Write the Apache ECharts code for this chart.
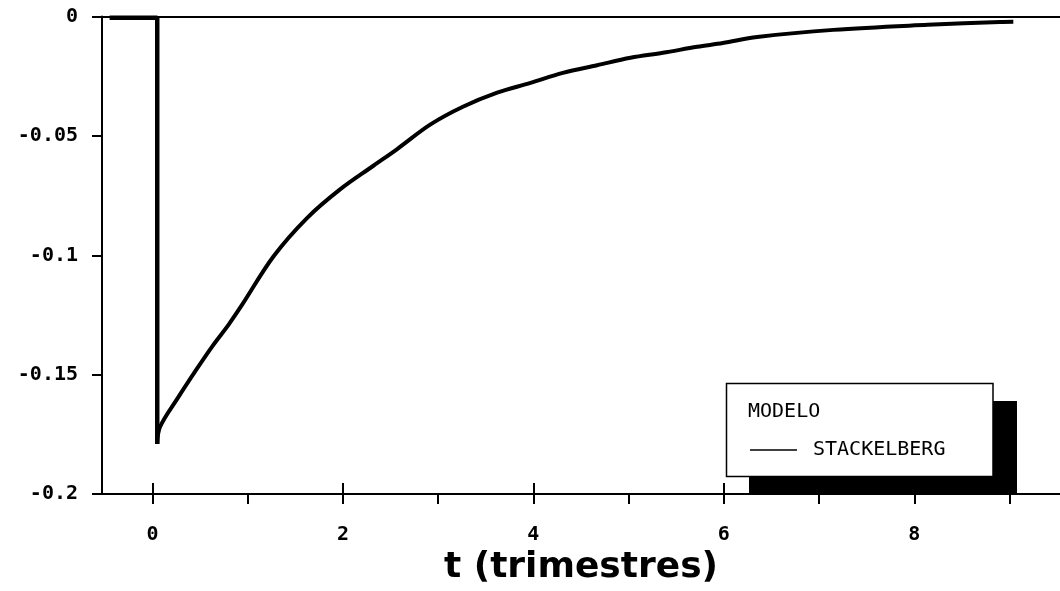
<!DOCTYPE html>
<html>
<head>
<meta charset="utf-8">
<script src="https://cdn.jsdelivr.net/npm/echarts@6/dist/echarts.min.js"></script>
<style>html,body{margin:0;padding:0;background:#fff;}#c{width:1060px;height:591px;}</style>
</head>
<body>
<div id="c"></div>
<script>
// ---- data ----
// pre-shock segment and the drop at the shock
const stepT = [-0.45, 0.05, 0.05];
const stepV = [-0.0005, -0.0005, -0.179];
// adjustment path after the shock
const curveT = [0.05, 0.08, 0.27, 0.45, 0.63, 0.80, 0.94, 1.27, 1.62, 1.97, 2.32, 2.57, 2.92, 3.26, 3.62, 3.97, 4.31, 4.67, 5.02, 5.36, 5.72, 5.99, 6.35, 7.15, 8.14, 8.9, 9.04];
const curveV = [-0.179, -0.1718, -0.1595, -0.1485, -0.138, -0.129, -0.1208, -0.1005, -0.0845, -0.0724, -0.0625, -0.0555, -0.0452, -0.0378, -0.0319, -0.0278, -0.0236, -0.0204, -0.0173, -0.0152, -0.0127, -0.0111, -0.0086, -0.0056, -0.0035, -0.0023, -0.0022];
const xMajorTicks = [0, 2, 4, 6, 8];
const xAllTicks = [0, 1, 2, 3, 4, 5, 6, 7, 8, 9];
const xTickLabels = ['0', '2', '4', '6', '8'];
const yTickLabels = ['0', '-0.05', '-0.1', '-0.15', '-0.2'];
const seriesName = 'STACKELBERG';
const legendTitle = 'MODELO';
const xTitle = 't (trimestres)';

const chart = echarts.init(document.getElementById('c'));
const labelFont = { fontFamily: 'DejaVu Sans Mono', fontWeight: 'bold', fontSize: 20, color: '#000' };

chart.setOption({
  animation: false,
  backgroundColor: '#fff',
  grid: { left: 102, right: 0, top: 16.5, bottom: 96, containLabel: false },
  xAxis: [
    {
      type: 'value', min: -0.53, max: 9.53, position: 'bottom',
      axisLine: { show: true, onZero: false, lineStyle: { color: '#000', width: 2 } },
      axisTick: { show: true, customValues: xAllTicks, length: 10, inside: false, lineStyle: { color: '#000', width: 2 } },
      axisLabel: Object.assign({ show: true, customValues: xMajorTicks, margin: 31,
        formatter: v => xTickLabels[xMajorTicks.indexOf(Math.round(v))] }, labelFont),
      splitLine: { show: false },
      name: xTitle, nameLocation: 'middle', nameGap: 53,
      nameTextStyle: { fontFamily: 'DejaVu Sans', fontWeight: 'bold', fontSize: 36, color: '#000' }
    },
    {
      type: 'value', min: -0.53, max: 9.53, position: 'bottom',
      axisLine: { show: false, onZero: false },
      axisTick: { show: true, customValues: xMajorTicks, length: 11, inside: true, lineStyle: { color: '#000', width: 2 } },
      axisLabel: { show: false },
      splitLine: { show: false }
    },
    {
      type: 'value', min: -0.53, max: 9.53, position: 'top',
      axisLine: { show: true, onZero: false, lineStyle: { color: '#000', width: 2 } },
      axisTick: { show: false }, axisLabel: { show: false }, splitLine: { show: false }
    }
  ],
  yAxis: {
    type: 'value', min: -0.2, max: 0, interval: 0.05,
    axisLine: { show: true, onZero: false, lineStyle: { color: '#000', width: 2 } },
    axisTick: { show: true, length: 10, lineStyle: { color: '#000', width: 2 } },
    axisLabel: Object.assign({ margin: 24,
      formatter: v => yTickLabels[Math.round(-v / 0.05)] }, labelFont),
    splitLine: { show: false }
  },
  graphic: [
    { type: 'rect', shape: { x: 749, y: 401, width: 268, height: 94 }, style: { fill: '#000' }, z: 10 },
    { type: 'rect', shape: { x: 726.5, y: 383.5, width: 266.5, height: 93 }, style: { fill: '#fff', stroke: '#000', lineWidth: 1.5 }, z: 11 },
    { type: 'text', x: 748, y: 412, style: { text: legendTitle, fontFamily: 'DejaVu Sans Mono', fontSize: 20, fill: '#000', verticalAlign: 'middle' }, z: 12 },
    { type: 'line', shape: { x1: 750, y1: 450, x2: 797, y2: 450 }, style: { stroke: '#000', lineWidth: 1.5 }, z: 12 },
    { type: 'text', x: 813, y: 450, style: { text: seriesName, fontFamily: 'DejaVu Sans Mono', fontSize: 20, fill: '#000', verticalAlign: 'middle' }, z: 12 }
  ],
  series: [
    {
      name: seriesName, type: 'line', xAxisIndex: 0,
      data: stepT.map((t, i) => [t, stepV[i]]),
      showSymbol: false, symbol: 'none', smooth: false,
      lineStyle: { color: '#000', width: 4.5 },
      z: 5
    },
    {
      name: seriesName, type: 'line', xAxisIndex: 0,
      data: curveT.map((t, i) => [t, curveV[i]]),
      showSymbol: false, symbol: 'none', smooth: 0.35,
      lineStyle: { color: '#000', width: 4 },
      z: 5
    }
  ]
});
</script>
</body>
</html>
